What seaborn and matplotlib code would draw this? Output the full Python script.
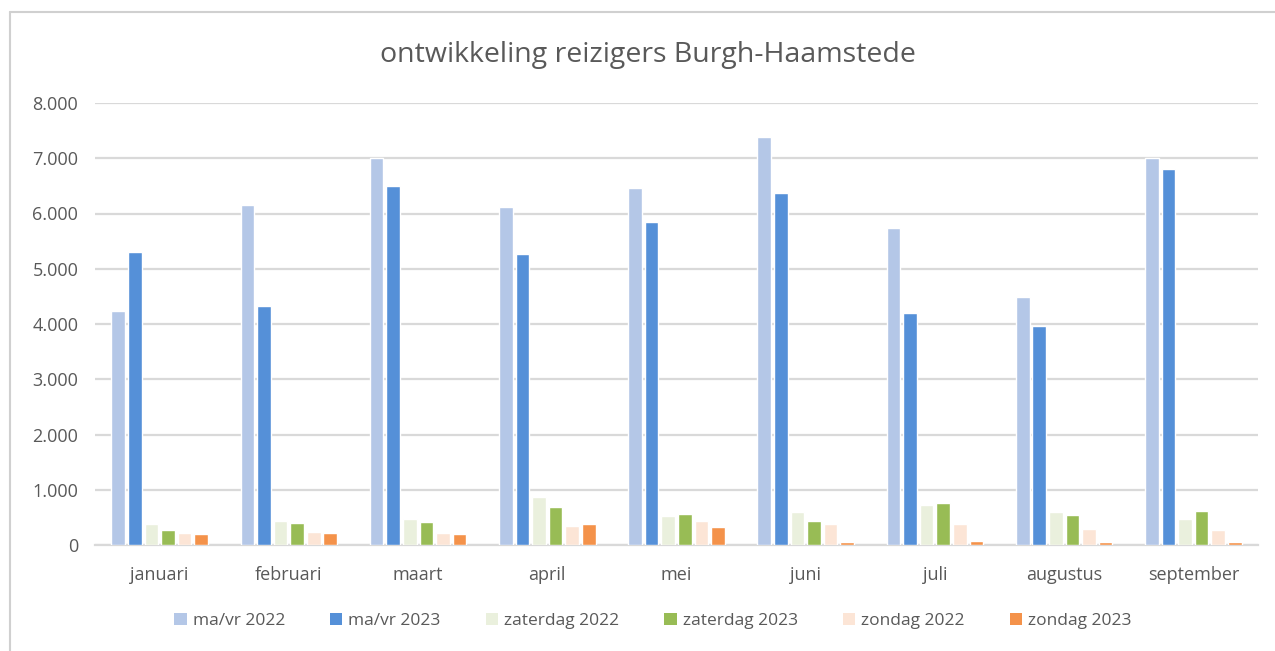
import matplotlib
matplotlib.use("Agg")
import matplotlib.pyplot as plt
from matplotlib.lines import Line2D
from matplotlib.patches import Patch
from matplotlib.ticker import FuncFormatter
import numpy as np
import pandas as pd
import seaborn as sns

# Monthly travellers Burgh-Haamstede
months = ["januari", "februari", "maart", "april", "mei", "juni", "juli", "augustus", "september"]
series_names = ["ma/vr 2022", "ma/vr 2023", "zaterdag 2022", "zaterdag 2023", "zondag 2022", "zondag 2023"]

mavr_2022 = [4230, 6150, 7010, 6110, 6465, 7390, 5745, 4490, 7010]
mavr_2023 = [5300, 4320, 6490, 5275, 5855, 6370, 4195, 3960, 6810]
zaterdag_2022 = [387, 442, 473, 860, 521, 606, 733, 600, 473]
zaterdag_2023 = [273, 406, 412, 690, 564, 436, 752, 545, 624]
zondag_2022 = [218, 236, 212, 352, 436, 376, 382, 297, 273]
zondag_2023 = [206, 218, 200, 376, 333, 55, 73, 55, 55]

y_ticks = [0, 1000, 2000, 3000, 4000, 5000, 6000, 7000, 8000]
title = "ontwikkeling reizigers Burgh-Haamstede"

colors = ["#B4C7E7", "#5590D8", "#EAF0DD", "#98BC55", "#FCE5D6", "#F4924A"]
text_color = "#595959"
grid_color = "#D9D9D9"

values = [mavr_2022, mavr_2023, zaterdag_2022, zaterdag_2023, zondag_2022, zondag_2023]
df = pd.DataFrame({
    "maand": np.tile(months, len(series_names)),
    "reeks": np.repeat(series_names, len(months)),
    "reizigers": np.concatenate(values),
})

sns.set_theme(style="white")
plt.rcParams["font.family"] = ["Open Sans", "DejaVu Sans"]

fig = plt.figure(figsize=(12.75, 6.51), dpi=100)
ax = fig.add_axes([95 / 1275, 1 - 545 / 651, (1258 - 95) / 1275, (545 - 103) / 651])

sns.barplot(
    data=df, x="maand", y="reizigers", hue="reeks",
    order=months, hue_order=series_names, palette=colors,
    width=0.77, gap=0.18, dodge=True, saturation=1, errorbar=None,
    legend=False, ax=ax, zorder=3,
)

ax.set_xlim(-0.5, len(months) - 0.5)
ax.set_ylim(0, 8000)
ax.set_yticks(y_ticks)
ax.yaxis.set_major_formatter(FuncFormatter(lambda v, p: f"{int(v):,}".replace(",", ".")))
ax.yaxis.grid(True, color=grid_color, linewidth=1.6, zorder=1)
ax.set_axisbelow(True)
ax.set_xlabel("")
ax.set_ylabel("")
for side in ["top", "right", "left"]:
    ax.spines[side].set_visible(False)
ax.spines["bottom"].set_color(grid_color)
ax.spines["bottom"].set_linewidth(1.6)
ax.spines["bottom"].set_zorder(1)
ax.tick_params(axis="both", length=0, colors=text_color, labelsize=13)
ax.tick_params(axis="y", pad=12)
ax.tick_params(axis="x", pad=15)

fig.text(648 / 1275, 1 - 55 / 651, title, ha="center", va="center",
         fontsize=20.5, color=text_color)

handles = [Patch(facecolor=c, edgecolor="none") for c in colors]
fig.legend(handles, series_names, loc="center", ncol=6,
           bbox_to_anchor=(653 / 1275, 1 - 621 / 651), frameon=False,
           fontsize=12.5, labelcolor=text_color, handlelength=0.7, handleheight=0.7,
           handletextpad=0.35, columnspacing=2.6)

# chart frame
fig.add_artist(Line2D([10 / 1275, 10 / 1275], [0, 1 - 12 / 651], color="#D0D0D0", linewidth=1.5,
                      transform=fig.transFigure))
fig.add_artist(Line2D([10 / 1275, 1], [1 - 12 / 651, 1 - 12 / 651], color="#D0D0D0", linewidth=1.5,
                      transform=fig.transFigure))

fig.savefig("out.png", dpi=100, facecolor="white")
